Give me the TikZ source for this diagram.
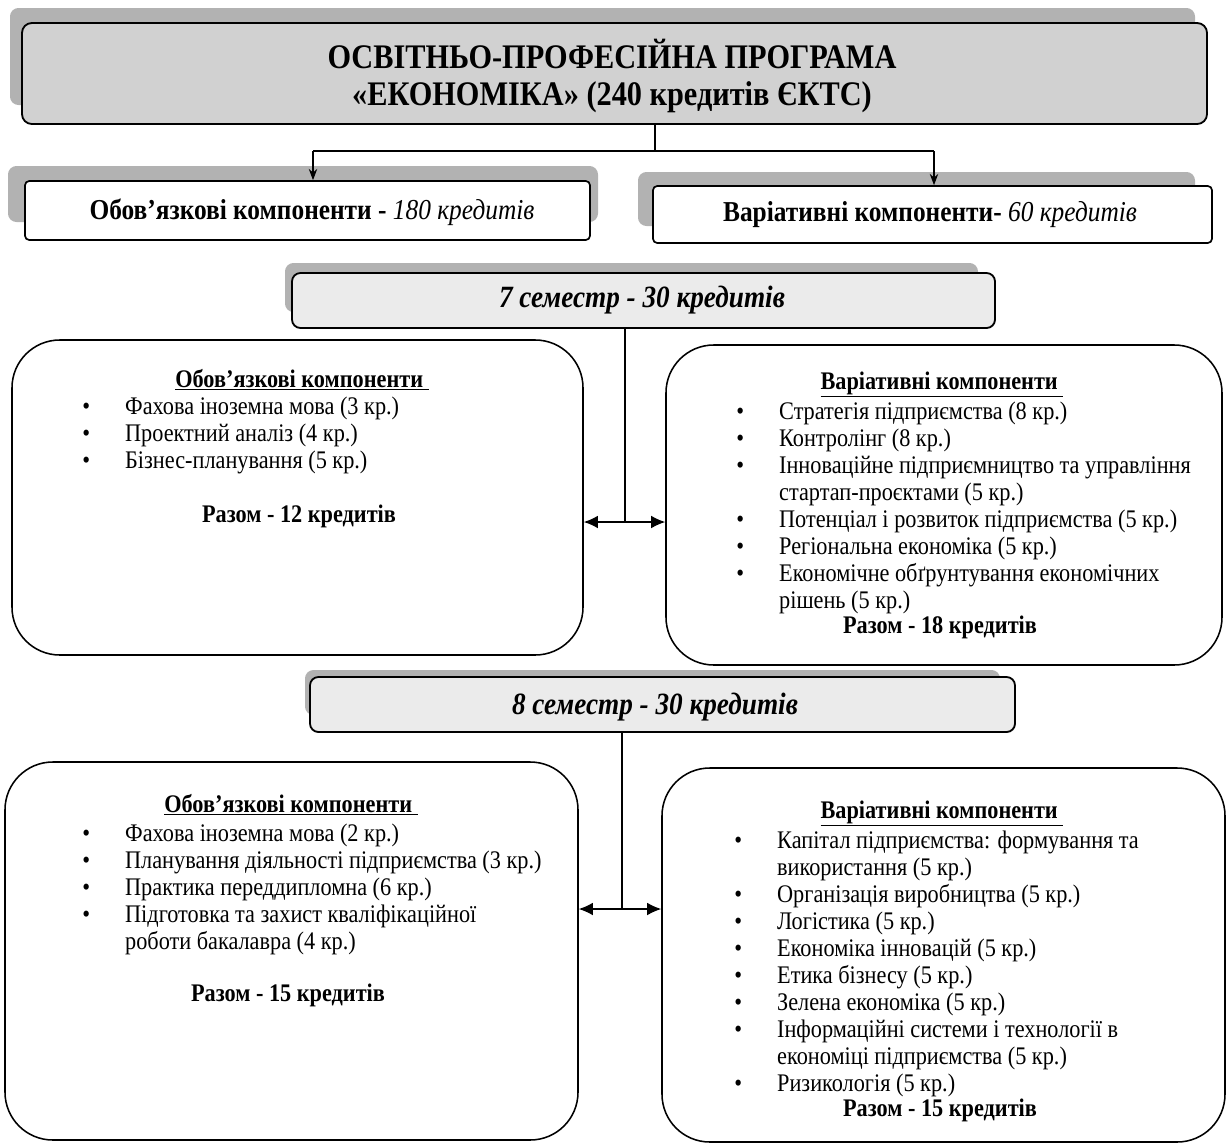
\documentclass[tikz,border=0pt]{standalone}
\usepackage{fontspec}
\setmainfont[FakeStretch=0.88]{Liberation Serif}
\usetikzlibrary{arrows.meta,fit}
\tikzset{
  band/.style={fill=black!30, draw=none, rounded corners=6pt},
  topbox/.style={draw, line width=1.3pt, fill=black!18, rounded corners=7pt, inner sep=0pt},
  midbox/.style={draw, line width=1.2pt, fill=white, rounded corners=3pt, inner sep=0pt},
  sembox/.style={draw, line width=1.3pt, fill=black!8, rounded corners=6pt, inner sep=0pt},
  bigbox/.style={draw, line width=1.1pt, fill=white, rounded corners=34pt, inner sep=0pt},
  conn/.style={line width=0.9pt},
  dnarrow/.style={conn, -{Stealth[length=8pt,width=6pt]}},
  dblarrow/.style={conn, {Latex[length=10pt,width=9pt]}-{Latex[length=10pt,width=9pt]}},
  body/.style={font=\fontsize{18}{19.2}\selectfont, inner sep=0pt},
  ttl/.style={font=\fontsize{18}{19.2}\selectfont\bfseries, inner sep=0pt, anchor=base},
  midtxt/.style={font=\fontsize{20.5}{24}\selectfont, inner sep=0pt, anchor=base},
  semtxt/.style={font=\fontsize{22}{26}\selectfont\bfseries\itshape, inner sep=0pt, anchor=base},
}
\newcommand{\lst}[1]{\begin{tabular}[t]{@{}p{30.5pt}@{}l@{}}#1\end{tabular}}
\newcommand{\bul}{\textbullet}
\begin{document}
\begin{tikzpicture}[x=0.025cm,y=-0.025cm]
\useasboundingbox (0,0) rectangle (1232,1146);
% shadow bands
\fill[band] (10,8) rectangle (1195,105);
\fill[band] (8,166) rectangle (598,222);
\fill[band] (638,172) rectangle (1195,226);
\fill[band] (285,263) rectangle (978,312);
\fill[band] (305,670) rectangle (1000,715);
% top box
\node[topbox, fit={(22,23)(1207,124)}] (top) {};
\node[font=\fontsize{24.5}{27}\selectfont\bfseries, align=center, inner sep=0pt] (toptxt) at (612,76)
  {ОСВІТНЬО-ПРОФЕСІЙНА ПРОГРАМА\\«ЕКОНОМІКА» (240 кредитів ЄКТС)};
% middle boxes
\node[midbox, fit={(25,181)(590,240)}] (mL) {};
\node[midbox, fit={(653,186)(1212,243)}] (mR) {};
\node[midtxt] (mLt) at (312,219)
  {\textbf{Обов’язкові компоненти -} \textit{180 кредитів}};
\node[midtxt] (mRt) at (930,221)
  {\textbf{Варіативні компоненти-} \textit{60 кредитів}};
% connectors top
\coordinate (j1) at (655,151);
\coordinate (aL) at (313,151);
\coordinate (aR) at (934,151);
\draw[conn] (top.south -| j1) -- (j1);
\draw[conn] (aL) -- (aR);
\draw[dnarrow] (aL) -- (aL |- mL.north);
\draw[dnarrow] (aR) -- (aR |- mR.north);
% semester 7
\node[sembox, fit={(292,273)(995,328)}] (s7) {};
\node[semtxt] (s7t) at (642,307) {7 семестр - 30 кредитів};
\node[bigbox, fit={(12,340)(583,655)}] (L7) {};
\node[bigbox, fit={(666,345)(1222,665)}] (R7) {};
\coordinate (v7) at (625,522);
\draw[conn] (s7.south -| v7) -- (v7);
\draw[dblarrow] (L7.east |- v7) -- (R7.west |- v7);
% L7 content
\node[ttl] (L7t) at (302,387) {\underline{Обов’язкові компоненти\ }};
\node[body, anchor=base west] (L7l) at (82,414) {\lst{
\bul & Фахова іноземна мова (3 кр.)\\
\bul & Проектний аналіз (4 кр.)\\
\bul & Бізнес-планування (5 кр.)}};
\node[ttl] (L7s) at (299,522) {Разом - 12 кредитів};
% R7 content
\node[ttl] (R7t) at (942,389) {\underline{Варіативні компоненти\ }};
\node[body, anchor=base west] (R7l) at (736,419) {\lst{
\bul & Стратегія підприємства (8 кр.)\\
\bul & Контролінг (8 кр.)\\
\bul & Інноваційне підприємництво та управління\\
 & стартап-проєктами (5 кр.)\\
\bul & Потенціал і розвиток підприємства (5 кр.)\\
\bul & Регіональна економіка (5 кр.)\\
\bul & Економічне обґрунтування економічних\\
 & рішень (5 кр.)}};
\node[ttl] (R7s) at (940,633) {Разом - 18 кредитів};
% semester 8
\node[sembox, fit={(310,677)(1015,732)}] (s8) {};
\node[semtxt] (s8t) at (655,714) {8 семестр - 30 кредитів};
\node[bigbox, fit={(5,762)(578,1140)}] (L8) {};
\node[bigbox, fit={(662,768)(1225,1142)}] (R8) {};
\coordinate (v8) at (622,909);
\draw[conn] (s8.south -| v8) -- (v8);
\draw[dblarrow] (L8.east |- v8) -- (R8.west |- v8);
% L8 content
\node[ttl] (L8t) at (291,812) {\underline{Обов’язкові компоненти\ }};
\node[body, anchor=base west] (L8l) at (82,841) {\lst{
\bul & Фахова іноземна мова (2 кр.)\\
\bul & Планування діяльності підприємства (3 кр.)\\
\bul & Практика переддипломна (6 кр.)\\
\bul & Підготовка та захист кваліфікаційної\\
 & роботи бакалавра (4 кр.)}};
\node[ttl] (L8s) at (288,1001) {Разом - 15 кредитів};
% R8 content
\node[ttl] (R8t) at (942,818) {\underline{Варіативні компоненти\ }};
\node[body, anchor=base west] (R8l) at (734,848) {\lst{
\bul & Капітал підприємства: формування та\\
 & використання (5 кр.)\\
\bul & Організація виробництва (5 кр.)\\
\bul & Логістика (5 кр.)\\
\bul & Економіка інновацій (5 кр.)\\
\bul & Етика бізнесу (5 кр.)\\
\bul & Зелена економіка (5 кр.)\\
\bul & Інформаційні системи і технології в\\
 & економіці підприємства (5 кр.)\\
\bul & Ризикологія (5 кр.)}};
\node[ttl] (R8s) at (940,1116) {Разом - 15 кредитів};
\end{tikzpicture}
\end{document}
